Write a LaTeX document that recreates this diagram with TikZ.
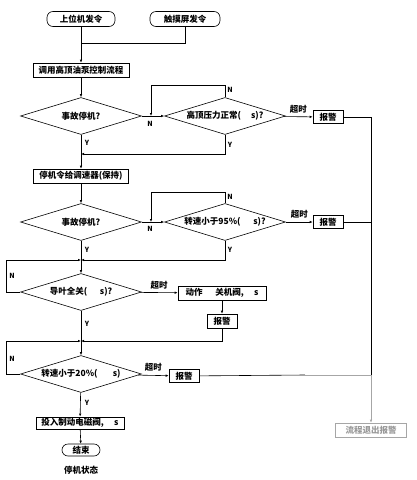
\documentclass[tikz,border=0pt]{standalone}
\usepackage{fontspec}
\newfontfamily\cjk{Noto Sans CJK SC}
\usetikzlibrary{shapes.geometric,arrows.meta}

\begin{document}
\begin{tikzpicture}[x=1pt,y=-1pt,line width=0.6pt,font=\cjk\bfseries\fontsize{8.5}{9}\selectfont,
  term/.style={draw,rounded corners=6pt,minimum height=15pt,inner sep=1pt},
  proc/.style={draw,minimum height=14pt,inner sep=1.5pt},
  dec/.style={draw,diamond,inner sep=0pt,minimum width=121pt,minimum height=37pt},
  flow/.style={-{Latex[length=3pt,width=2.5pt]}},
  yn/.style={font=\cjk\bfseries\fontsize{7}{7}\selectfont,inner sep=0pt},
  faded/.style={draw=gray!70,text=gray!80}]
\useasboundingbox (0,0) rectangle (416,480);

\node[term,minimum width=68pt] (cmdA) at (81,19) {上位机发令};
\node[term,minimum width=70pt] (cmdB) at (185,19) {触摸屏发令};
\node[proc,minimum width=96pt] (proc1) at (81,70) {调用高顶油泵控制流程};
\node[dec,label=center:{事故停机?}] (dec1) at (81,116) {};
\node[dec,label=center:{高顶压力正常(\hspace{1.2em}s)?}] (dec2) at (225,116) {};
\node[proc,minimum width=30pt,minimum height=13pt] (alarm1) at (328,117) {报警};
\node[proc,minimum width=95pt] (proc2) at (81,176) {停机令给调速器(保持)};
\node[dec,label=center:{事故停机?}] (dec3) at (81,222) {};
\node[dec,label=center:{转速小于95\%(\hspace{1.5em}s)?}] (dec4) at (225,222) {};
\node[proc,minimum width=30pt,minimum height=13pt] (alarm2) at (328,222) {报警};
\node[dec,label=center:{导叶全关(\hspace{1.5em}s)?}] (dec5) at (81,292) {};
\node[proc,minimum width=88pt] (act) at (222,293) {动作\hspace{1.5em}关机阀,\hspace{1.2em}s};
\node[proc,minimum width=30pt,minimum height=14pt] (alarm3) at (222,321) {报警};
\node[dec,label=center:{转速小于20\%(\hspace{1.8em}s)}] (dec6) at (81,374) {};
\node[proc,minimum width=30pt,minimum height=13pt] (alarm4) at (184,376) {报警};
\node[proc,faded,minimum width=71pt] (quit) at (371,430) {流程退出报警};
\node[proc,minimum width=88pt,minimum height=12pt] (proc3) at (80,423) {投入制动电磁阀,\hspace{1.2em}s};
\node[term,minimum width=38pt,minimum height=12pt] (stop) at (81,450) {结束};
\node (state) at (81,470) {停机状态};

\coordinate (j0) at (81,43);
\coordinate (j1) at (151,116);
\coordinate (j2) at (81,154);
\coordinate (j3) at (151,222);
\coordinate (j4) at (81,260);
\coordinate (j5) at (81,341);
\coordinate (busT) at (371,117);
\coordinate (busM) at (371,222);
\coordinate (busB) at (371,375);
\coordinate (fade) at (305,375);

\draw[flow] (cmdA) -- (proc1);
\draw (cmdB) |- (j0);
\draw[flow] (proc1) -- (dec1);
\draw[flow] (dec1) -- (dec2);
\draw[flow] (dec2.north) |- (151,85) -- (j1);
\draw[flow] (dec2) -- node[above] (t1) {超时} (alarm1);
\draw (alarm1) -- (busT) -- (busB);
\draw[flow] (dec2.south) |- (j2);
\draw[flow] (dec1) -- (proc2);

\draw[flow] (proc2) -- (dec3);
\draw[flow] (dec3) -- (dec4);
\draw[flow] (dec4.north) |- (151,192) -- (j3);
\draw[flow] (dec4) -- node[above] (t2) {超时} (alarm2);
\draw (alarm2) -- (busM);
\draw[flow] (dec4.south) |- (j4);
\draw[flow] (dec3) -- (dec5);

\draw[flow] (dec5.west) -- ++(-14,0) |- (j4);
\draw[flow] (dec5) -- node[above] (t3) {超时} (act);
\draw[flow] (act) -- (alarm3);
\draw[flow] (alarm3.south) |- (j5);
\draw[flow] (dec5) -- (dec6);

\draw[flow] (dec6.west) -- ++(-14,0) |- (j5);
\draw[flow] (dec6) -- node[above] (t4) {超时} (alarm4);
\draw (alarm4) -- (fade);
\draw[gray!70] (fade) -- (busB);
\draw[flow,gray!70] (busB) -- (quit);
\draw[flow] (dec6) -- (proc3);
\draw[flow] (proc3) -- (stop);

\node[yn] (y1) at (87,143) {Y};
\node[yn] (n1) at (150,124) {N};
\node[yn] (n2) at (230,90) {N};
\node[yn] (y2) at (230,145) {Y};
\node[yn] (y3) at (87,250) {Y};
\node[yn] (n3) at (150,229) {N};
\node[yn] (n4) at (230,197) {N};
\node[yn] (y4) at (230,250) {Y};
\node[yn] (n5) at (12,276) {N};
\node[yn] (y5) at (87,324) {Y};
\node[yn] (n6) at (12,359) {N};
\node[yn] (y6) at (87,403) {Y};
\end{tikzpicture}
\end{document}
